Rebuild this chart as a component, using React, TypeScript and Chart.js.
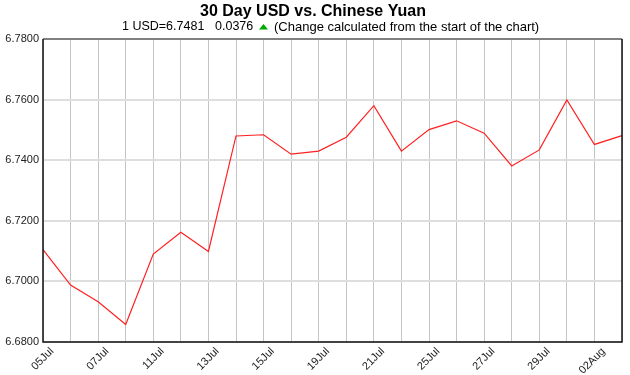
import React, { useEffect, useRef } from "react";
import { Chart, registerables } from "chart.js";

Chart.register(...registerables);

const dates = [
  "05Jul", "06Jul", "07Jul", "08Jul", "11Jul", "12Jul", "13Jul", "14Jul", "15Jul", "18Jul", "19Jul",
  "20Jul", "21Jul", "22Jul", "25Jul", "26Jul", "27Jul", "28Jul", "29Jul", "01Aug", "02Aug", "03Aug",
];
const rates = [
  6.7105, 6.6988, 6.6933, 6.6858, 6.709, 6.7162, 6.7099, 6.748, 6.7484, 6.742, 6.7430,
  6.7476, 6.758, 6.743, 6.7501, 6.753, 6.7489, 6.7381, 6.7434, 6.7599, 6.7452, 6.7481,
];
const yTicks = [6.68, 6.7, 6.72, 6.74, 6.76, 6.78];
const titleText = "30 Day USD vs. Chinese Yuan";
const subtitleRate = "1 USD=6.7481";
const subtitleChange = "0.0376";
const subtitleNote = "(Change calculated from the start of the chart)";

const FONT = "'Liberation Sans', Arial, sans-serif";

const headerPlugin = {
  id: "header",
  afterDraw(chart: any) {
    const ctx = chart.ctx;
    const w = chart.width;
    ctx.save();
    ctx.fillStyle = "#000";
    ctx.textBaseline = "middle";
    ctx.textAlign = "center";
    ctx.font = `bold 16px ${FONT}`;
    ctx.fillText(titleText, w / 2 - 2, 12);
    ctx.font = `12.5px ${FONT}`;
    ctx.textAlign = "left";
    const y = 27;
    ctx.fillText(subtitleRate, 122, y);
    ctx.fillText(subtitleChange, 215, y);
    const tx = 259;
    const triW = 9;
    ctx.beginPath();
    ctx.moveTo(tx, y + 2.5);
    ctx.lineTo(tx + triW, y + 2.5);
    ctx.lineTo(tx + triW / 2, y - 3);
    ctx.closePath();
    ctx.fillStyle = "#00aa00";
    ctx.fill();
    ctx.fillStyle = "#000";
    ctx.font = `13px ${FONT}`;
    ctx.fillText(subtitleNote, 274, y);
    // frame
    const ca = chart.chartArea;
    ctx.lineWidth = 2;
    ctx.strokeStyle = "#808080";
    ctx.beginPath();
    ctx.moveTo(ca.left, ca.top);
    ctx.lineTo(ca.right, ca.top);
    ctx.stroke();
    ctx.strokeStyle = "#111";
    ctx.lineWidth = 1.5;
    ctx.beginPath();
    ctx.moveTo(ca.left, ca.top);
    ctx.lineTo(ca.left, ca.bottom);
    ctx.lineTo(ca.right, ca.bottom);
    ctx.lineTo(ca.right, ca.top);
    ctx.stroke();
    ctx.restore();
  },
};

export default function App() {
  const ref = useRef<HTMLCanvasElement | null>(null);
  useEffect(() => {
    if (!ref.current) return;
    const chart = new Chart(ref.current, {
      type: "line",
      data: {
        labels: dates,
        datasets: [
          {
            data: rates,
            borderColor: "#ff2020",
            borderWidth: 1.2,
            pointRadius: 0,
            tension: 0,
            fill: false,
          },
        ],
      },
      options: {
        animation: false,
        responsive: false,
        maintainAspectRatio: false,
        layout: { padding: { top: 39, right: 8, left: 0, bottom: 0 } },
        plugins: {
          legend: { display: false },
          title: { display: false },
          tooltip: { enabled: false },
        },
        scales: {
          x: {
            type: "category",
            grid: { color: "#c4c4c4", lineWidth: 1, drawTicks: false },
            border: { display: false },
            afterFit: (scale: any) => {
              scale.paddingLeft = 0;
              scale.paddingRight = 0;
              scale.height = 33;
            },
            ticks: {
              autoSkip: false,
              maxRotation: 45,
              minRotation: 45,
              padding: 3,
              labelOffset: 9,
              color: "#222",
              font: { family: FONT, size: 11 },
              callback: (_v: any, i: number) => (i % 2 === 0 ? dates[i] : ""),
            },
          },
          y: {
            min: yTicks[0],
            max: yTicks[yTicks.length - 1],
            afterBuildTicks: (scale: any) => {
              scale.ticks = yTicks.map((v) => ({ value: v }));
            },
            afterFit: (scale: any) => {
              scale.width = 43;
              scale.paddingTop = 0;
              scale.paddingBottom = 0;
            },
            grid: { color: "#dedede", lineWidth: 2, drawTicks: false },
            border: { display: false },
            ticks: {
              padding: 4,
              color: "#222",
              font: { family: FONT, size: 11 },
              callback: (v: any) => Number(v).toFixed(4),
            },
          },
        },
      },
      plugins: [headerPlugin],
    });
    return () => chart.destroy();
  }, []);
  return (
    <div style={{ position: "fixed", left: 0, top: 0, width: 630, height: 375, background: "#fff" }}>
      <canvas ref={ref} width={630} height={375} style={{ width: 630, height: 375 }} />
    </div>
  );
}
